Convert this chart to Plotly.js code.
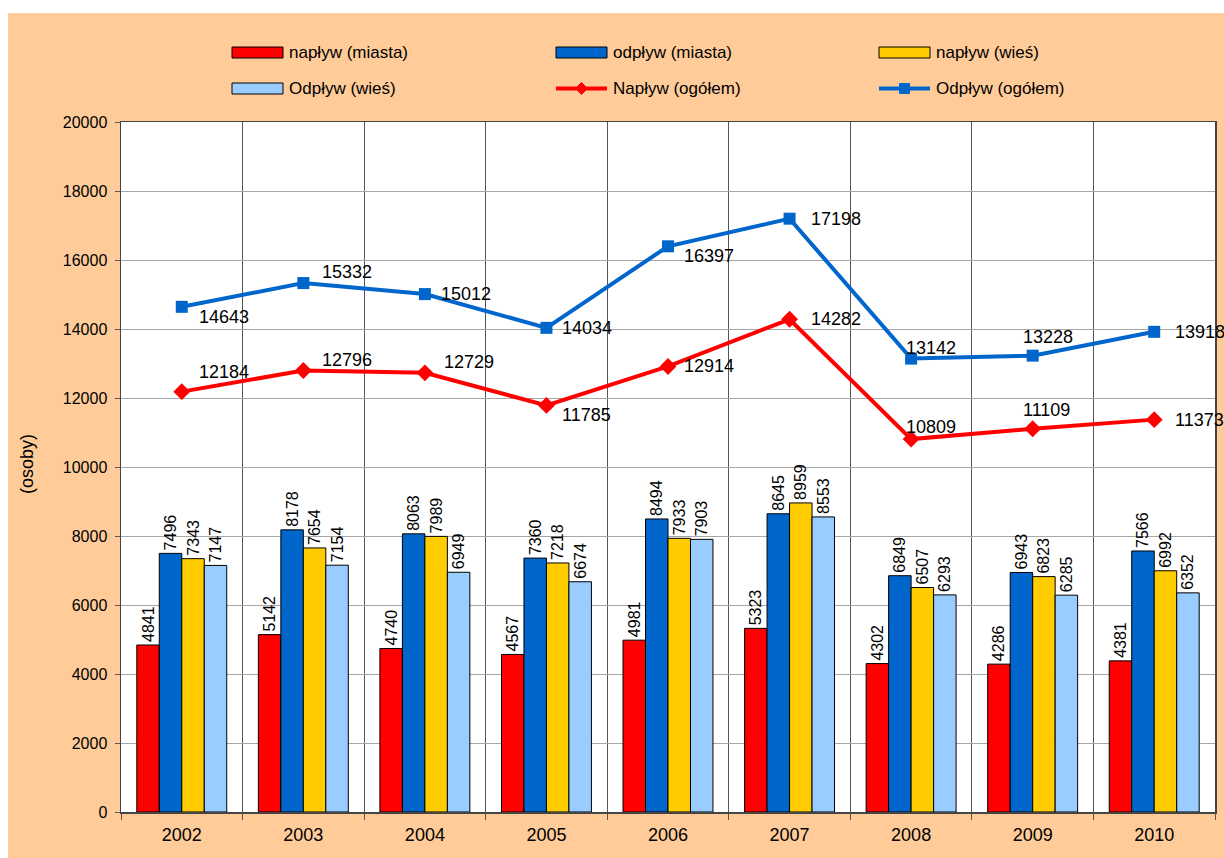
<!DOCTYPE html>
<html>
<head>
<meta charset="utf-8">
<script src="https://cdn.plot.ly/plotly-3.0.1.min.js"></script>
<style>
html,body{margin:0;padding:0;background:#ffffff;}
#chart{position:absolute;left:8px;top:13px;width:1216px;height:845px;}
</style>
</head>
<body>
<div id="chart"></div>
<script>
// ---- data ----
var years = ['2002','2003','2004','2005','2006','2007','2008','2009','2010'];
var naplywMiasta = [4841, 5142, 4740, 4567, 4981, 5323, 4302, 4286, 4381];
var odplywMiasta = [7496, 8178, 8063, 7360, 8494, 8645, 6849, 6943, 7566];
var naplywWies   = [7343, 7654, 7989, 7218, 7933, 8959, 6507, 6823, 6992];
var odplywWies   = [7147, 7154, 6949, 6674, 7903, 8553, 6293, 6285, 6352];
var naplywOgolem = [12184, 12796, 12729, 11785, 12914, 14282, 10809, 11109, 11373];
var odplywOgolem = [14643, 15332, 15012, 14034, 16397, 17198, 13142, 13228, 13918];
var seriesNames = ['napływ (miasta)', 'odpływ (miasta)', 'napływ (wieś)', 'Odpływ (wieś)', 'Napływ (ogółem)', 'Odpływ (ogółem)'];

// ---- style ----
var colors = ['#FF0000', '#0066CC', '#FFCC00', '#99CCFF'];
var fontFam = 'Liberation Sans, Arial, sans-serif';
// label offsets (px) for line data labels: [xshift, yshift]
var odpOffsets = [[15,-10],[17,11],[14,0],[14,0],[14,-10],[19,0],[-7,11],[-12,19],[19,0]];
var napOffsets = [[15,20],[17,11],[17,11],[14,-10],[14,0],[19,0],[-7,12],[-12,19],[19,0]];

// page geometry (px inside div)
var W = 1216, H = 845;
var M = {l:113, r:9, t:109, b:46};
var PW = W - M.l - M.r, PH = H - M.t - M.b;
function px2x(px){ return (px - 8 - M.l) / PW; }
function px2y(py){ return (H - M.b - (py - 13)) / PH; }

var barSeries = [naplywMiasta, odplywMiasta, naplywWies, odplywWies];
var traces = [];
barSeries.forEach(function(vals, i){
  traces.push({
    type:'bar', x: years, y: vals, name: seriesNames[i],
    marker:{color: colors[i], line:{color:'#000000', width:1}},
    text: vals.map(String), textposition:'outside', textangle:-90, constraintext:'none',
    textfont:{family:fontFam, size:16, color:'#000'},
    cliponaxis:false, showlegend:false, hoverinfo:'x+y'
  });
});
traces.push({
  type:'scatter', mode:'lines+markers', x: years, y: naplywOgolem, name: seriesNames[4],
  line:{color:'#FF0000', width:4}, marker:{symbol:'diamond', size:13, color:'#FF0000'},
  showlegend:false, cliponaxis:false
});
traces.push({
  type:'scatter', mode:'lines+markers', x: years, y: odplywOgolem, name: seriesNames[5],
  line:{color:'#0066CC', width:4}, marker:{symbol:'square', size:12, color:'#0066CC'},
  showlegend:false, cliponaxis:false
});

var annotations = [];
years.forEach(function(yr, i){
  annotations.push({x: i, y: odplywOgolem[i], xref:'x', yref:'y', text: String(odplywOgolem[i]),
    showarrow:false, xanchor:'left', yanchor:'middle', xshift: odpOffsets[i][0], yshift: odpOffsets[i][1],
    font:{family:fontFam, size:18, color:'#000'}});
  annotations.push({x: i, y: naplywOgolem[i], xref:'x', yref:'y', text: String(naplywOgolem[i]),
    showarrow:false, xanchor:'left', yanchor:'middle', xshift: napOffsets[i][0], yshift: napOffsets[i][1],
    font:{family:fontFam, size:18, color:'#000'}});
});
// y axis title
annotations.push({xref:'paper', yref:'paper', x: px2x(27), y: px2y(464), text:'(osoby)', textangle:-90,
  showarrow:false, xanchor:'center', yanchor:'middle', font:{family:fontFam, size:18, color:'#000'}});

// custom legend
var shapes = [];
var legCols = [232, 556, 879];
var legRows = [52.5, 88.5];
var legendItems = [
  {row:0, col:0, kind:'bar', color:colors[0]},
  {row:0, col:1, kind:'bar', color:colors[1]},
  {row:0, col:2, kind:'bar', color:colors[2]},
  {row:1, col:0, kind:'bar', color:colors[3]},
  {row:1, col:1, kind:'line', color:'#FF0000', sym:'diamond'},
  {row:1, col:2, kind:'line', color:'#0066CC', sym:'square'}
];
legendItems.forEach(function(it, i){
  var x0 = legCols[it.col], cy = legRows[it.row];
  if(it.kind === 'bar'){
    shapes.push({type:'rect', xref:'paper', yref:'paper', x0:px2x(x0), x1:px2x(x0+51), y0:px2y(cy-5.5), y1:px2y(cy+5.5),
      fillcolor: it.color, line:{color:'#000', width:1}, layer:'above'});
  } else {
    shapes.push({type:'line', xref:'paper', yref:'paper', x0:px2x(x0), x1:px2x(x0+51), y0:px2y(cy), y1:px2y(cy),
      line:{color: it.color, width:4}, layer:'above'});
    var c = x0 + 25.5;
    if(it.sym === 'square'){
      shapes.push({type:'rect', xref:'paper', yref:'paper', x0:px2x(c-5), x1:px2x(c+5), y0:px2y(cy+5), y1:px2y(cy-5),
        fillcolor: it.color, line:{color: it.color, width:1}, layer:'above'});
    } else {
      var p = 'M' + px2x(c-6) + ',' + px2y(cy) + ' L' + px2x(c) + ',' + px2y(cy-6) + ' L' + px2x(c+6) + ',' + px2y(cy) +
              ' L' + px2x(c) + ',' + px2y(cy+6) + ' Z';
      shapes.push({type:'path', xref:'paper', yref:'paper', path:p, fillcolor: it.color, line:{color: it.color, width:1}, layer:'above'});
    }
  }
  annotations.push({xref:'paper', yref:'paper', x:px2x(x0+55), y:px2y(cy), text: seriesNames[i],
    showarrow:false, xanchor:'left', yanchor:'middle', font:{family:fontFam, size:17, color:'#000'}});
});

var layout = {
  width: W, height: H,
  margin: M,
  paper_bgcolor:'#FFCC99', plot_bgcolor:'#FFFFFF',
  barmode:'group', bargap:0.26, bargroupgap:0,
  showlegend:false,
  font:{family:fontFam, size:16, color:'#000'},
  xaxis:{type:'category', range:[-0.5, years.length - 0.5], autorange:false, tickson:'boundaries', showgrid:true, gridcolor:'#555555', gridwidth:1,
    ticks:'outside', ticklen:6, tickcolor:'#555', showline:true, linecolor:'#444', linewidth:1.5, mirror:true,
    tickangle:0, tickfont:{family:fontFam, size:18, color:'#000'}, ticklabelstandoff:6, fixedrange:true},
  yaxis:{range:[0,20000], autorange:false, dtick:2000, tick0:0, tickformat:'d', showgrid:true, gridcolor:'#A6A6A6', gridwidth:1,
    ticks:'outside', ticklen:5, tickcolor:'#555', showline:true, linecolor:'#444', linewidth:1.5, mirror:true,
    tickfont:{family:fontFam, size:16, color:'#000'}, ticklabelstandoff:4, zeroline:false, fixedrange:true},
  annotations: annotations,
  shapes: shapes
};

Plotly.newPlot('chart', traces, layout, {displayModeBar:false, staticPlot:true});
</script>
</body>
</html>
